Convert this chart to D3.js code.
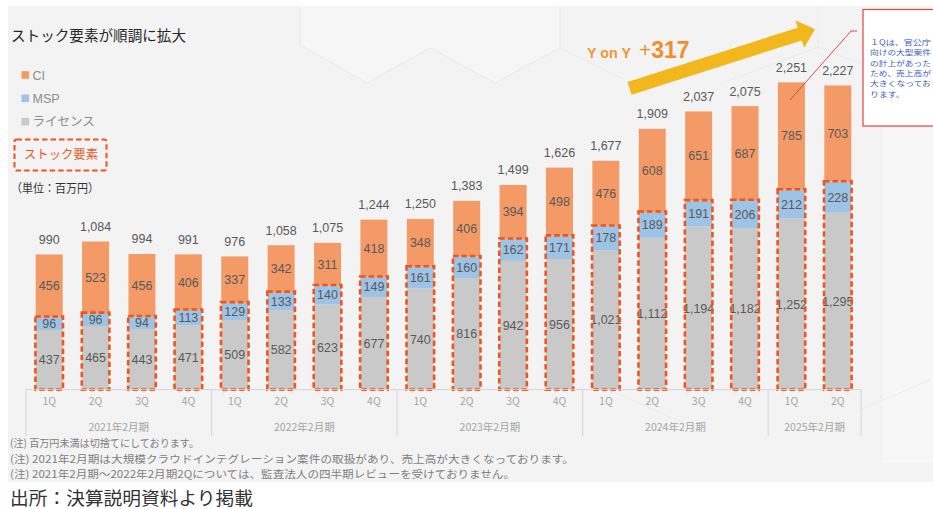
<!DOCTYPE html>
<html><head><meta charset="utf-8">
<script src="https://cdn.jsdelivr.net/npm/d3@7"></script>
<style>
html,body{margin:0;padding:0;background:#fff;}
svg{display:block;}
</style></head>
<body>
<div id="chart"></div>
<script>
// ---------- data ----------
const quarters = ["1Q","2Q","3Q","4Q","1Q","2Q","3Q","4Q","1Q","2Q","3Q","4Q","1Q","2Q","3Q","4Q","1Q","2Q"];
const fiscalYears = ["2021年2月期","2021年2月期","2021年2月期","2021年2月期",
  "2022年2月期","2022年2月期","2022年2月期","2022年2月期",
  "2023年2月期","2023年2月期","2023年2月期","2023年2月期",
  "2024年2月期","2024年2月期","2024年2月期","2024年2月期",
  "2025年2月期","2025年2月期"];
const license = [437,465,443,471,509,582,623,677,740,816,942,956,1021,1112,1194,1182,1252,1295];
const msp     = [96,96,94,113,129,133,140,149,161,160,162,171,178,189,191,206,212,228];
const ci      = [456,523,456,406,337,342,311,418,348,406,394,498,476,608,651,687,785,703];
const totals  = [990,1084,994,991,976,1058,1075,1244,1250,1383,1499,1626,1677,1909,2037,2075,2251,2227];
const seriesNames = ["CI","MSP","ライセンス"];
const footnotes = [
  "(注) 百万円未満は切捨てにしております。",
  "(注) 2021年2月期は大規模クラウドインテグレーション案件の取扱があり、売上高が大きくなっております。",
  "(注) 2021年2月期～2022年2月期2Qについては、監査法人の四半期レビューを受けておりません。"
];
const noteLines = ["１Qは、官公庁","向けの大型案件","の計上があった","ため、売上高が","大きくなってお","ります。"];

// ---------- setup ----------
const W = 933, H = 509;
const colors = {ci:"#F39A66", msp:"#9DC3E6", license:"#C9C9C9"};
const dashColor = "#F0561C";
const jp = "'Noto Sans CJK JP','Noto Sans',sans-serif";
const num = "'Liberation Sans',Arial,sans-serif";

const svg = d3.select("#chart").append("svg").attr("width", W).attr("height", H);
svg.append("rect").attr("width", W).attr("height", H).attr("fill", "#fff");
svg.append("rect").attr("x", 8).attr("y", 6).attr("width", W - 8).attr("height", 476).attr("fill", "#f3f3f3");

// subtle background decoration
const deco = svg.append("g");
deco.append("path").attr("d","M8,6 L300,6 L300,45 L367,83 L430,48 L495,83 L560,48 L560,6 Z").attr("fill","#f6f6f6");
deco.append("path").attr("d","M300,8 L300,45 L367,83 L430,48 L495,83 L560,48 L560,6 M560,48 L625,80 M720,84 L818,47 L818,6 M818,47 L862,64")
  .attr("fill","none").attr("stroke","#ebebeb").attr("stroke-width",1.2);
deco.append("rect").attr("x",883).attr("y",128).attr("width",50).attr("height",335).attr("fill","#f7f7f7");
deco.append("path").attr("d","M600,386 L700,430 M930,380 L860,410").attr("stroke","#ebebeb").attr("fill","none");

const keys = quarters.map((q,i)=> fiscalYears[i] + "-" + q);
const rows = keys.map((k,i)=>({key:k, license:license[i], msp:msp[i], ci:ci[i], total:totals[i]}));

const x = d3.scaleBand().domain(keys).range([26, 861]).paddingInner(0.418).paddingOuter(0.209);
const y = d3.scaleLinear().domain([0, 2800]).range([389.6, 7.1]);

const stack = d3.stack().keys(["license","msp","ci"]);
const series = stack(rows);

const gBars = svg.append("g");
gBars.selectAll("g.s").data(series).join("g").attr("class","s")
  .attr("fill", d=>colors[d.key])
  .selectAll("rect").data(d=>d).join("rect")
  .attr("x", d=>x(d.data.key)).attr("width", x.bandwidth())
  .attr("y", d=>y(d[1])).attr("height", d=>y(d[0]) - y(d[1]));

// segment labels
const gLab = svg.append("g").attr("font-family", num).attr("font-size", 12.5).attr("fill", "#595959").attr("text-anchor","middle");
series.forEach(s=>{
  gLab.selectAll(null).data(s).join("text")
    .attr("x", d=>x(d.data.key) + x.bandwidth()/2)
    .attr("y", d=>(y(d[0]) + y(d[1]))/2)
    .attr("dy","0.36em")
    .text(d=>d3.format(",")(d.data[s.key]));
});

// dashed boxes for stock elements (license + msp)
svg.append("g").selectAll("rect").data(rows).join("rect")
  .attr("x", d=>x(d.key) - 0.3).attr("width", x.bandwidth() + 0.6)
  .attr("y", d=>y(d.license + d.msp) - 0.3).attr("height", d=>y(0) - y(d.license + d.msp) + 0.3)
  .attr("fill","none").attr("stroke", dashColor).attr("stroke-width", 2.6).attr("stroke-dasharray","5.5,3");

// total labels
svg.append("g").attr("font-family", num).attr("font-size", 12.5).attr("fill", "#595959").attr("text-anchor","middle")
  .selectAll("text").data(rows).join("text")
  .attr("x", d=>x(d.key) + x.bandwidth()/2)
  .attr("y", d=>y(d.license + d.msp + d.ci) - 10.5)
  .text(d=>d3.format(",")(d.total));

// ---------- axis ----------
const axisY = y(0);
const step = x.step(), gap = step - x.bandwidth();
const gAxis = svg.append("g");
gAxis.append("g").attr("transform", `translate(0,${axisY})`)
  .call(d3.axisBottom(x).tickSize(0).tickPadding(8).tickFormat((k,i)=>quarters[i]))
  .call(g=>g.select(".domain").remove())
  .call(g=>g.selectAll("text").attr("font-family", jp).attr("font-size", 10.5).attr("fill","#a5a5a5"));
gAxis.append("line").attr("x1", x(keys[0]) - gap/2).attr("x2", x(keys[keys.length-1]) + x.bandwidth() + gap/2)
  .attr("y1", axisY).attr("y2", axisY).attr("stroke","#d6d6d6");
const groups = d3.groups(keys.map((k,i)=>({k, fy:fiscalYears[i]})), d=>d.fy);
const bounds = [];
groups.forEach(([fy, items])=>{
  const x0 = x(items[0].k) - gap/2;
  const x1 = x(items[items.length-1].k) + x.bandwidth() + gap/2;
  bounds.push(x0, x1);
  gAxis.append("text").attr("x", (x0+x1)/2).attr("y", 427).attr("dy","0.36em")
    .attr("text-anchor","middle").attr("font-family", jp).attr("font-size", 10.5).attr("fill","#a5a5a5").text(fy);
});
Array.from(new Set(bounds.map(b=>Math.round(b*10)/10))).forEach(b=>{
  gAxis.append("line").attr("x1", b).attr("x2", b).attr("y1", axisY).attr("y2", 436).attr("stroke","#d6d6d6");
});

// ---------- titles, legend ----------
svg.append("text").attr("x", 11).attr("y", 36).attr("dy","0.36em").attr("font-family", jp).attr("font-size", 14.5)
  .attr("fill","#262626").attr("textLength", 175).attr("lengthAdjust","spacingAndGlyphs").text("ストック要素が順調に拡大");

const legColors = [colors.ci, colors.msp, colors.license];
const leg = svg.append("g");
seriesNames.forEach((n,i)=>{
  const ly = 75 + i*23.3;
  leg.append("rect").attr("x", 21.5).attr("y", ly - 3.8).attr("width", 7.6).attr("height", 7.6).attr("fill", legColors[i]);
  leg.append("text").attr("x", 32.5).attr("y", ly).attr("dy","0.36em").attr("font-family", i<2 ? num : jp)
    .attr("font-size", 12.5).attr("fill","#8c8c8c").text(n);
});
svg.append("rect").attr("x", 14.5).attr("y", 139.5).attr("width", 92).attr("height", 31).attr("rx", 2)
  .attr("fill","none").attr("stroke", dashColor).attr("stroke-width", 2).attr("stroke-dasharray","5.5,3");
svg.append("text").attr("x", 24).attr("y", 154.5).attr("dy","0.36em").attr("font-family", jp).attr("font-size", 12.5)
  .attr("fill", dashColor).attr("textLength", 74).attr("lengthAdjust","spacingAndGlyphs").text("ストック要素");
svg.append("text").attr("x", 11).attr("y", 189).attr("dy","0.36em").attr("font-family", jp).attr("font-size", 12)
  .attr("fill","#333").attr("textLength", 88).attr("lengthAdjust","spacingAndGlyphs").text("（単位：百万円）");

// ---------- footnotes / source ----------
const fnY = [443, 459, 474], fnLen = [189, 564, 505];
footnotes.forEach((t,i)=>{
  svg.append("text").attr("x", 10).attr("y", fnY[i]).attr("dy","0.36em").attr("font-family", jp).attr("font-size", 10.5)
    .attr("fill","#7f7f7f").attr("textLength", fnLen[i]).attr("lengthAdjust","spacingAndGlyphs").text(t);
});
svg.append("text").attr("x", 10).attr("y", 498).attr("dy","0.36em").attr("font-family", jp).attr("font-size", 18.5)
  .attr("fill","#333").attr("textLength", 243).attr("lengthAdjust","spacingAndGlyphs").text("出所：決算説明資料より掲載");

// ---------- YoY arrow ----------
const S = [629.5, 88.3], tip = [815, 29.2];
const L = Math.hypot(tip[0]-S[0], tip[1]-S[1]);
const ang = Math.atan2(tip[1]-S[1], tip[0]-S[0]) * 180 / Math.PI;
const w = 6.7, hw = 14.5, hl = 16;
svg.append("polygon")
  .attr("points", [[0,-w],[L-hl,-w],[L-hl,-hw],[L,0],[L-hl,hw],[L-hl,w],[0,w]].map(p=>p.join(",")).join(" "))
  .attr("transform", `translate(${S[0]},${S[1]}) rotate(${ang})`)
  .attr("fill", "#F2B71D");
svg.append("text").attr("x", 587).attr("y", 52.5).attr("dy","0.36em").attr("font-family", num).attr("font-weight","bold")
  .attr("font-size", 15).attr("fill","#F29637").attr("textLength", 44).attr("lengthAdjust","spacingAndGlyphs").text("Y on Y");
const yoy = svg.append("text").attr("x", 639).attr("y", 58.3).attr("fill","#F08E2C").attr("font-family", num);
yoy.append("tspan").attr("font-weight", "normal").attr("font-size", 21).attr("dy", -1).text("+");
yoy.append("tspan").attr("dy", 1).attr("font-weight","bold").attr("font-size", 23).text("317");

// ---------- annotation ----------
svg.append("polyline").attr("points","857,31 851,31 790,100").attr("fill","none").attr("stroke","#E0453F").attr("stroke-width",1);
svg.append("rect").attr("x", 863).attr("y", 9.5).attr("width", 80).attr("height", 116.5)
  .attr("fill","#fff").attr("stroke","#E0453F").attr("stroke-width",1.2);
noteLines.forEach((t,i)=>{
  svg.append("text").attr("x", 870).attr("y", 42.3 + i*10.35).attr("dy","0.36em").attr("font-family", jp)
    .attr("font-size", 7.1).attr("fill","#3F5DC0")
    .attr("textLength", t.length * 8.7).attr("lengthAdjust","spacingAndGlyphs").text(t);
});
</script>
</body></html>
